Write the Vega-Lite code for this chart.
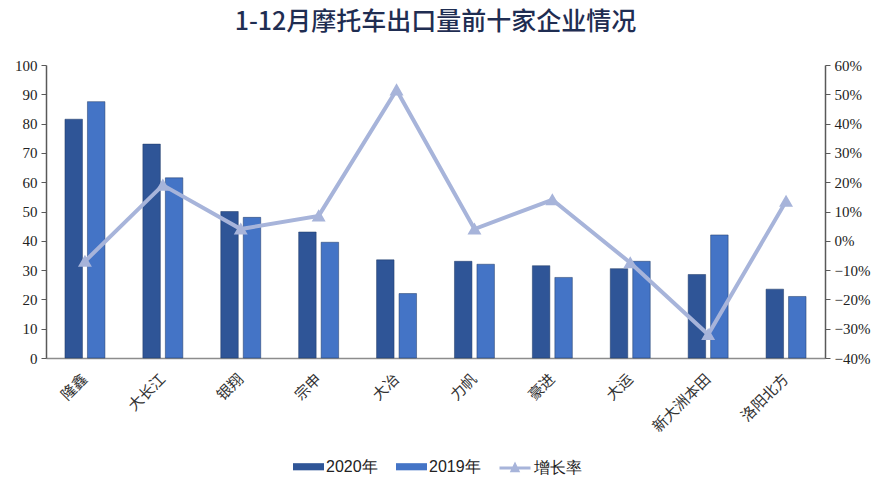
{
  "$schema": "https://vega.github.io/schema/vega-lite/v6.json",
  "width": 779,
  "height": 293,
  "autosize": "none",
  "padding": {"left": 46, "top": 65, "right": 53, "bottom": 123},
  "background": "white",
  "title": {
    "text": "1-12月摩托车出口量前十家企业情况",
    "font": "Noto Sans CJK SC",
    "fontSize": 25,
    "fontWeight": 500,
    "color": "#1f2d52",
    "anchor": "middle",
    "offset": 23
  },
  "data": {
    "values": [
      {"company": "隆鑫", "y2020": 81.5, "y2019": 87.5, "growth": -0.07},
      {"company": "大长江", "y2020": 73, "y2019": 61.5, "growth": 0.19},
      {"company": "银翔", "y2020": 50, "y2019": 48, "growth": 0.04},
      {"company": "宗申", "y2020": 43, "y2019": 39.5, "growth": 0.085},
      {"company": "大冶", "y2020": 33.5, "y2019": 22, "growth": 0.515},
      {"company": "力帆", "y2020": 33, "y2019": 32, "growth": 0.04},
      {"company": "豪进", "y2020": 31.5, "y2019": 27.5, "growth": 0.14},
      {"company": "大运", "y2020": 30.5, "y2019": 33, "growth": -0.075},
      {"company": "新大洲本田", "y2020": 28.5, "y2019": 42, "growth": -0.32},
      {"company": "洛阳北方", "y2020": 23.5, "y2019": 21, "growth": 0.135}
    ]
  },
  "encoding": {
    "x": {
      "field": "company",
      "type": "nominal",
      "sort": null,
      "title": null,
      "scale": {"paddingInner": 0.487, "paddingOuter": 0.2435},
      "axis": {
        "labelAngle": -45,
        "labelAlign": "right",
        "labelBaseline": "middle",
        "labelPadding": 18,
        "labelFont": "Noto Sans CJK SC",
        "labelFontSize": 15,
        "labelColor": "#333333",
        "ticks": false,
        "domainColor": "#8c8c8c",
        "domainWidth": 1.5,
        "grid": false
      }
    }
  },
  "layer": [
    {
      "transform": [
        {"fold": ["y2020", "y2019"], "as": ["key", "value"]},
        {"calculate": "datum.key == 'y2020' ? '2020年' : '2019年'", "as": "year"}
      ],
      "mark": {"type": "bar", "stroke": "#1f3864", "strokeWidth": 0.5},
      "encoding": {
        "xOffset": {
          "field": "year",
          "type": "nominal",
          "sort": ["2020年", "2019年"],
          "scale": {"paddingInner": 0.222, "paddingOuter": 0}
        },
        "y": {
          "field": "value",
          "type": "quantitative",
          "title": null,
          "scale": {"domain": [0, 100], "nice": false},
          "axis": {
            "orient": "left",
            "values": [0, 10, 20, 30, 40, 50, 60, 70, 80, 90, 100],
            "grid": false,
            "labelFont": "Liberation Serif",
            "labelFontSize": 15,
            "labelColor": "#222222",
            "labelPadding": 4,
            "tickSize": 5,
            "tickColor": "#595959",
            "domainColor": "#595959",
            "domainWidth": 1.5
          }
        },
        "color": {
          "field": "year",
          "type": "nominal",
          "scale": {"domain": ["2020年", "2019年"], "range": ["#2f5597", "#4474c6"]},
          "legend": {
            "title": null,
            "orient": "none",
            "direction": "horizontal",
            "legendX": 247,
            "legendY": 386,
            "padding": 0,
            "symbolType": "M-1,-0.23H1V0.23H-1Z",
            "symbolSize": 961,
            "symbolStrokeWidth": 0,
            "labelFont": "Liberation Sans",
            "labelFontSize": 16,
            "labelColor": "#222222",
            "labelOffset": 2,
            "columnPadding": 18
          }
        }
      }
    },
    {
      "mark": {
        "type": "line",
        "strokeWidth": 4,
        "point": {"shape": "triangle-up", "size": 110, "filled": true, "color": "#a7b4da", "opacity": 1}
      },
      "encoding": {
        "y": {
          "field": "growth",
          "type": "quantitative",
          "title": null,
          "scale": {"domain": [-0.4, 0.6], "nice": false},
          "axis": {
            "orient": "right",
            "values": [-0.4, -0.3, -0.2, -0.1, 0, 0.1, 0.2, 0.3, 0.4, 0.5, 0.6],
            "format": ".0%",
            "grid": false,
            "labelFont": "Liberation Serif",
            "labelFontSize": 15,
            "labelColor": "#222222",
            "labelPadding": 4,
            "tickSize": 5,
            "tickColor": "#595959",
            "domainColor": "#595959",
            "domainWidth": 1.5
          }
        },
        "stroke": {
          "datum": "增长率",
          "scale": {"range": ["#a7b4da"]},
          "legend": {
            "title": null,
            "orient": "none",
            "legendX": 452,
            "legendY": 386,
            "padding": 0,
            "symbolType": "M-1,0H1M-0.18,0.17L0,-0.2L0.18,0.17Z",
            "symbolSize": 961,
            "symbolStrokeWidth": 3,
            "symbolFillColor": "#a7b4da",
            "labelFont": "Liberation Sans",
            "labelFontSize": 16,
            "labelColor": "#222222",
            "labelOffset": 2
          }
        }
      }
    }
  ],
  "resolve": {"scale": {"y": "independent"}},
  "config": {"view": {"stroke": null}}
}
